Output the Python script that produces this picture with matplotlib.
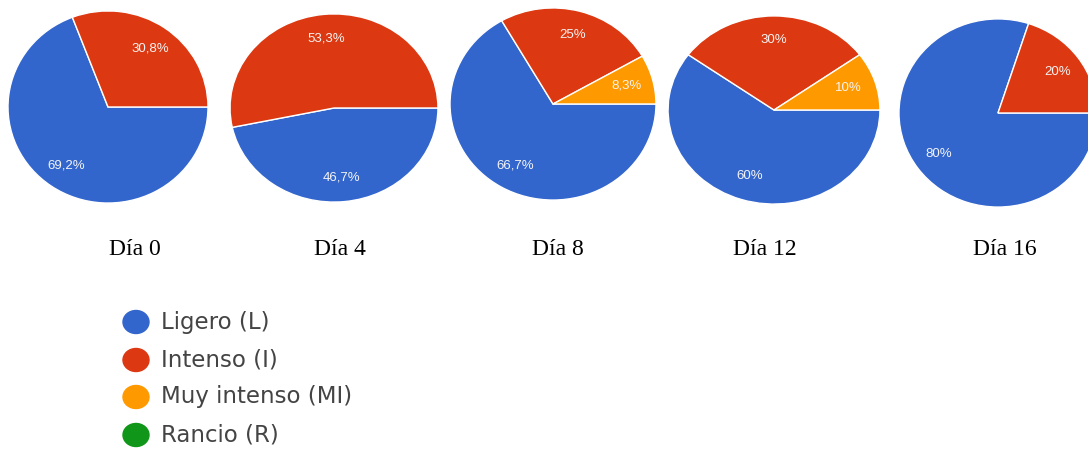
import matplotlib.pyplot as plt
from matplotlib.patches import Ellipse

# Datos (porcentajes por día)
dias = ['Día 0', 'Día 4', 'Día 8', 'Día 12', 'Día 16']
categorias = ['Ligero (L)', 'Intenso (I)', 'Muy intenso (MI)', 'Rancio (R)']
ligero = [69.2, 46.7, 66.7, 60, 80]
intenso = [30.8, 53.3, 25, 30, 20]
muy_intenso = [0, 0, 8.3, 10, 0]
rancio = [0, 0, 0, 0, 0]

colores = ['#3366cc', '#dc3912', '#ff9900', '#109618']

W, H = 1088, 453
# centro x, centro y, radio x, radio y (en píxeles)
geom = [(108, 107, 101, 97), (334, 108, 105, 95), (553, 104, 104, 97),
        (774, 110, 107, 95), (998, 113, 100, 95)]
label_x = [135, 340, 558, 765, 1005]


def fmt(p):
    return f'{round(p, 1):g}'.replace('.', ',') + '%'


fig = plt.figure(figsize=(W / 100, H / 100), dpi=100)

for i, (cx, cy, rx, ry) in enumerate(geom):
    vals = [ligero[i], intenso[i], muy_intenso[i], rancio[i]]
    v = [x for x in vals if x > 0]
    c = [colores[k] for k, x in enumerate(vals) if x > 0]
    ax = fig.add_axes([(cx - rx) / W, (H - cy - ry) / H, 2 * rx / W, 2 * ry / H])
    ax.pie(v, colors=c, startangle=0, counterclock=False, radius=1,
           autopct=fmt, pctdistance=0.74,
           wedgeprops=dict(edgecolor='white', linewidth=1),
           textprops=dict(color='#f4f4f4', fontsize=9.5, family='Liberation Sans'))
    ax.set_aspect('auto')
    ax.set_xlim(-1.01, 1.01)
    ax.set_ylim(-1.01, 1.01)
    ax.axis('off')

# capa de anotaciones en coordenadas de píxel
top = fig.add_axes([0, 0, 1, 1])
top.set_xlim(0, W)
top.set_ylim(H, 0)
top.axis('off')

for x, d in zip(label_x, dias):
    top.text(x, 255, d, ha='center', va='baseline', fontsize=17,
             family='Liberation Serif', color='black')

leg_y = [322, 360, 397, 435]
for y, nombre, col in zip(leg_y, categorias, colores):
    top.add_patch(Ellipse((136, y), 26, 23, color=col))
    top.text(161, y, nombre, ha='left', va='center', fontsize=16.5,
             family='DejaVu Sans', color='#444444')

fig.savefig('out.png', dpi=100)
